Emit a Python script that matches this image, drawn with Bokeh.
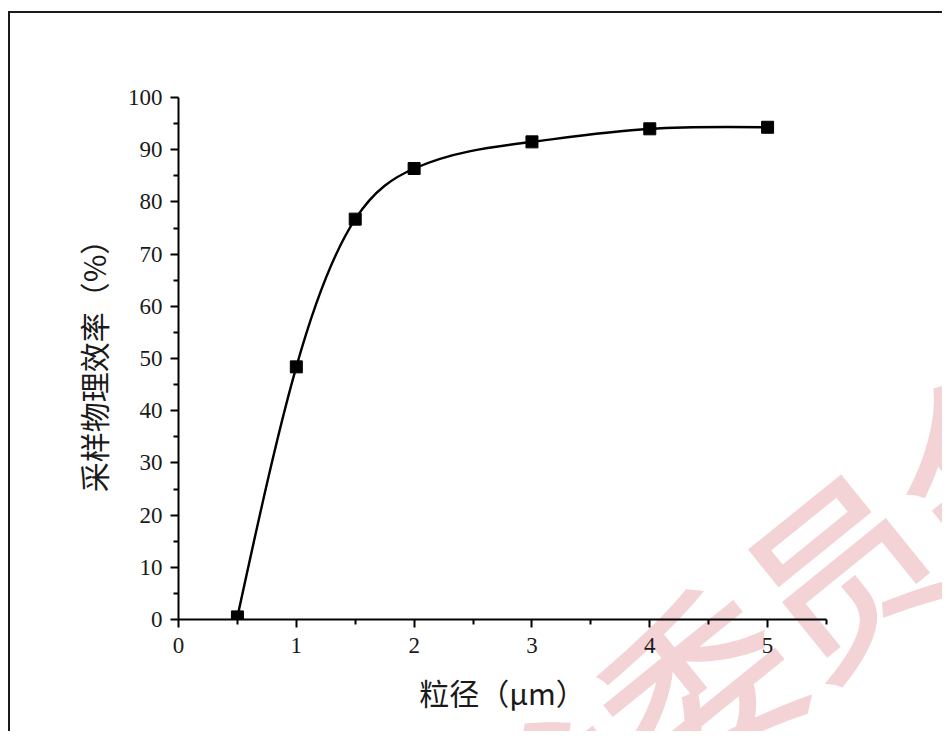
import numpy as np
from bokeh.plotting import figure
from bokeh.models import Range1d, FixedTicker, InlineStyleSheet
from bokeh.embed import file_html
from bokeh.resources import INLINE

# data
particle_size = [0.5, 1.0, 1.5, 2.0, 3.0, 4.0, 5.0]
efficiency = [0.5, 48.4, 76.7, 86.4, 91.5, 94.0, 94.3]
x_ticks = [0, 1, 2, 3, 4, 5]
y_ticks = [0, 10, 20, 30, 40, 50, 60, 70, 80, 90, 100]
watermark = "技术委员会"

# natural cubic spline slopes -> bezier control points (smooth connector)
xs = np.array(particle_size, float)
ys = np.array(efficiency, float)
n = len(xs)
h = np.diff(xs)
A = np.zeros((n, n)); b = np.zeros(n)
A[0, 0] = 1; A[-1, -1] = 1
for i in range(1, n - 1):
    A[i, i - 1] = h[i - 1]; A[i, i] = 2 * (h[i - 1] + h[i]); A[i, i + 1] = h[i]
    b[i] = 6 * ((ys[i + 1] - ys[i]) / h[i] - (ys[i] - ys[i - 1]) / h[i - 1])
M = np.linalg.solve(A, b)
m = np.zeros(n)
for i in range(n - 1):
    m[i] = (ys[i + 1] - ys[i]) / h[i] - h[i] * (2 * M[i] + M[i + 1]) / 6
m[-1] = (ys[-1] - ys[-2]) / h[-1] + h[-1] * (M[-2] + 2 * M[-1]) / 6
x0 = xs[:-1]; y0 = ys[:-1]; x1 = xs[1:]; y1 = ys[1:]
cx0 = x0 + h / 3; cy0 = y0 + m[:-1] * h / 3
cx1 = x1 - h / 3; cy1 = y1 - m[1:] * h / 3

W, H = 934, 720
p = figure(width=W, height=H, output_backend="svg", toolbar_location=None,
           x_range=Range1d(0, 5.5), y_range=Range1d(0, 100),
           min_border_left=168, min_border_top=84, min_border_right=W - 816,
           min_border_bottom=H - 606)
p.styles = {"border-left": "2px solid #1a1a1a", "border-top": "2px solid #1a1a1a",
            "margin-top": "11px", "margin-left": "8px", "overflow": "hidden",
            "background-color": "white"}
# faint watermark behind the (transparent) canvas
p.stylesheets = [InlineStyleSheet(css=f"""
:host::before {{
  content: "{watermark}";
  position: absolute;
  left: 1044px;
  top: 377px;
  font-family: "Noto Sans CJK SC";
  font-weight: normal;
  font-size: 186px;
  line-height: 1;
  white-space: nowrap;
  color: #f3d3d6;
  -webkit-text-stroke: 3px #f3d3d6;
  transform-origin: 0 0;
  transform: rotate(-39deg) translate(-100%, -50%);
  pointer-events: none;
}}
""")]
p.outline_line_color = None
p.grid.visible = False
p.background_fill_color = None
p.border_fill_color = None

p.bezier(x0=x0, y0=y0, x1=x1, y1=y1, cx0=cx0, cy0=cy0, cx1=cx1, cy1=cy1,
         line_color="black", line_width=2.4)
p.scatter(particle_size, efficiency, marker="square", size=12, color="black")

for ax in (p.xaxis[0], p.yaxis[0]):
    ax.axis_line_width = 2
    ax.major_tick_line_width = 2
    ax.minor_tick_line_width = 2
    ax.major_tick_in = 0
    ax.major_tick_out = 8
    ax.minor_tick_in = 0
    ax.minor_tick_out = 5
    ax.major_label_text_font = "Liberation Serif"
    ax.major_label_text_font_size = "23px"
    ax.major_label_text_color = "#1a1a1a"
    ax.axis_label_text_font = "Noto Sans CJK SC"
    ax.axis_label_text_font_style = "normal"
    ax.axis_label_text_font_size = "30px"
    ax.axis_label_text_color = "#1a1a1a"

p.xaxis.ticker = FixedTicker(ticks=x_ticks, minor_ticks=[0.5, 1.5, 2.5, 3.5, 4.5, 5.5])
p.yaxis.ticker = FixedTicker(ticks=y_ticks, minor_ticks=list(range(5, 100, 10)))
p.xaxis.axis_label = "粒径（μm）"
p.yaxis.axis_label = "采样物理效率（%）"
p.xaxis.major_label_standoff = 10
p.yaxis.major_label_standoff = 8
p.xaxis.axis_label_standoff = 14
p.yaxis.axis_label_standoff = 10

open("out.html", "w").write(file_html(p, INLINE))
